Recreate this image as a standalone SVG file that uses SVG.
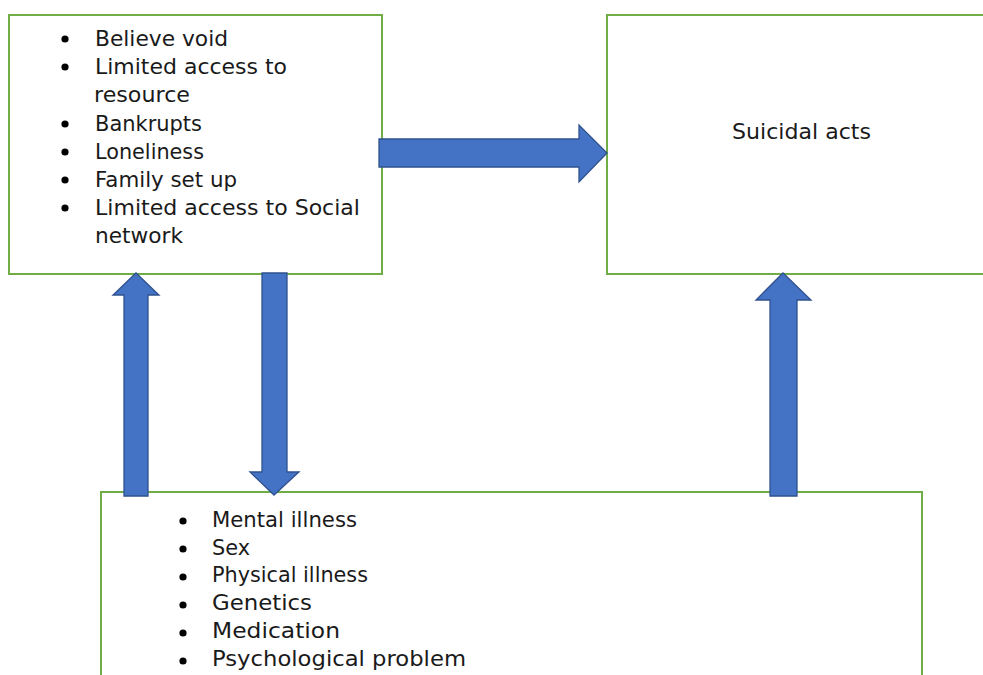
<svg xmlns="http://www.w3.org/2000/svg" width="983" height="675" viewBox="0 0 983 675">
<style>
.box{fill:#ffffff;stroke:#70AD47;stroke-width:2}
.arr{fill:#4472C4;stroke:#2F528F;stroke-width:1.3;stroke-linejoin:miter}
.t{font-family:"DejaVu Sans","Liberation Sans",sans-serif;font-size:22px;fill:#1a1a1a}
.b{fill:#000000}
</style>
<rect width="983" height="675" fill="#ffffff"/>
<g id="node-factors">
<rect class="box" x="9" y="15" width="373" height="259"/>
<circle class="b" cx="65" cy="39" r="3.6"/>
<circle class="b" cx="65" cy="67" r="3.6"/>
<circle class="b" cx="65" cy="124" r="3.6"/>
<circle class="b" cx="65" cy="152" r="3.6"/>
<circle class="b" cx="65" cy="180" r="3.6"/>
<circle class="b" cx="65" cy="208" r="3.6"/>
<text class="t" x="95" y="46" textLength="133" lengthAdjust="spacingAndGlyphs">Believe void</text>
<text class="t" x="95" y="74" textLength="192" lengthAdjust="spacingAndGlyphs">Limited access to</text>
<text class="t" x="94" y="102" textLength="96" lengthAdjust="spacingAndGlyphs">resource</text>
<text class="t" x="95" y="131" textLength="107" lengthAdjust="spacingAndGlyphs">Bankrupts</text>
<text class="t" x="95" y="159" textLength="109" lengthAdjust="spacingAndGlyphs">Loneliness</text>
<text class="t" x="95" y="187" textLength="142" lengthAdjust="spacingAndGlyphs">Family set up</text>
<text class="t" x="95" y="215" textLength="265" lengthAdjust="spacingAndGlyphs">Limited access to Social</text>
<text class="t" x="95" y="243" textLength="88" lengthAdjust="spacingAndGlyphs">network</text>
</g>
<g id="node-suicidal">
<rect class="box" x="607" y="15" width="390" height="259"/>
<text class="t" x="732" y="139" textLength="139" lengthAdjust="spacingAndGlyphs">Suicidal acts</text>
</g>
<g id="node-individual">
<rect class="box" x="101" y="492" width="821" height="200"/>
<circle class="b" cx="183" cy="521" r="3.6"/>
<circle class="b" cx="183" cy="549" r="3.6"/>
<circle class="b" cx="183" cy="577" r="3.6"/>
<circle class="b" cx="183" cy="605" r="3.6"/>
<circle class="b" cx="183" cy="633" r="3.6"/>
<circle class="b" cx="183" cy="661" r="3.6"/>
<text class="t" x="212" y="527" textLength="145" lengthAdjust="spacingAndGlyphs">Mental illness</text>
<text class="t" x="212" y="555" textLength="38" lengthAdjust="spacingAndGlyphs">Sex</text>
<text class="t" x="212" y="582" textLength="156" lengthAdjust="spacingAndGlyphs">Physical illness</text>
<text class="t" x="212" y="610" textLength="100" lengthAdjust="spacingAndGlyphs">Genetics</text>
<text class="t" x="212" y="638" textLength="128" lengthAdjust="spacingAndGlyphs">Medication</text>
<text class="t" x="212" y="666" textLength="254" lengthAdjust="spacingAndGlyphs">Psychological problem</text>
</g>
<g id="connectors">
<path class="arr" d="M379,139 L579,139 L579,125 L607,153 L579,182 L579,167 L379,167 Z"/>
<path class="arr" d="M124,496 L124,295 L113,295 L136,273 L159,295 L148,295 L148,496 Z"/>
<path class="arr" d="M262,273 L287,273 L287,472 L299,472 L274,495 L250,472 L262,472 Z"/>
<path class="arr" d="M770,496 L770,300 L756,300 L783,273 L811,300 L797,300 L797,496 Z"/>
</g>
</svg>
